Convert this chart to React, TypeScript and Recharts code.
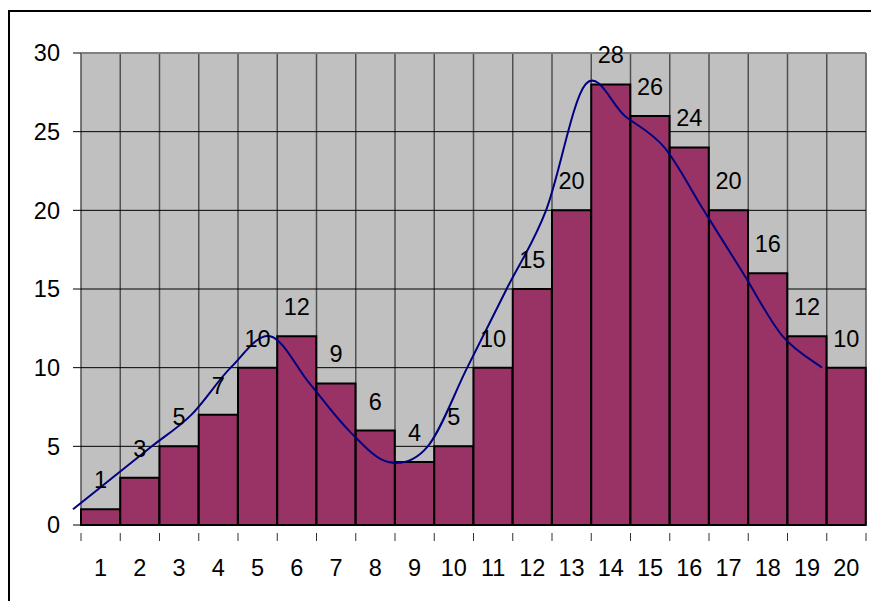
import React from 'react';
import { ComposedChart, Bar, Line, XAxis, YAxis, CartesianGrid, LabelList, ReferenceLine } from 'recharts';

const classes = ['1', '2', '3', '4', '5', '6', '7', '8', '9', '10', '11', '12', '13', '14', '15', '16', '17', '18', '19', '20'];
const counts = [1, 3, 5, 7, 10, 12, 9, 6, 4, 5, 10, 15, 20, 28, 26, 24, 20, 16, 12, 10];
// the smoothed curve sits on the class boundaries
const curvePos = [0, 1, 2, 3, 4, 5, 6, 7, 8, 9, 10, 11, 12, 13, 14, 15, 16, 17, 18, 19];
const yTicks = [0, 5, 10, 15, 20, 25, 30];

const FONT = '"Liberation Sans", Arial, sans-serif';

const barData = classes.map((c, i) => ({ name: c, count: counts[i] }));
const curveData = curvePos.map((p, i) => ({ pos: p, count: counts[i] }));

// Catmull-Rom style smoothing, close to what spreadsheet "smoothed line" does
function smoothCurve(context: any) {
  let pts: [number, number][] = [];
  return {
    areaStart() {},
    areaEnd() {},
    lineStart() {
      pts = [];
    },
    point(x: number, y: number) {
      pts.push([+x, +y]);
    },
    lineEnd() {
      if (!pts.length) return;
      context.moveTo(pts[0][0], pts[0][1]);
      for (let i = 0; i < pts.length - 1; i++) {
        const p0 = pts[i - 1] || pts[i];
        const p1 = pts[i];
        const p2 = pts[i + 1];
        const p3 = pts[i + 2] || p2;
        context.bezierCurveTo(
          p1[0] + (p2[0] - p0[0]) / 6,
          p1[1] + (p2[1] - p0[1]) / 6,
          p2[0] - (p3[0] - p1[0]) / 6,
          p2[1] - (p3[1] - p1[1]) / 6,
          p2[0],
          p2[1]
        );
      }
    },
  };
}

function ClassTick(props: any) {
  const { x, y, payload, index, width } = props;
  const band = width / classes.length;
  const left = x - band / 2;
  return (
    <g>
      <line x1={left} y1={y} x2={left} y2={y + 8} stroke="#333" />
      {index === classes.length - 1 && (
        <line x1={x + band / 2} y1={y} x2={x + band / 2} y2={y + 8} stroke="#333" />
      )}
      <text x={x} y={y + 26} dy="0.71em" textAnchor="middle" fill="#000" fontSize={23.5} fontFamily={FONT}>
        {payload.value}
      </text>
    </g>
  );
}

export default function App() {
  return (
    <div style={{ position: 'fixed', left: 0, top: 0, width: 871, height: 601, overflow: 'hidden', background: '#fff' }}>
      <div
        style={{
          position: 'absolute',
          left: 8,
          top: 10,
          width: 920,
          height: 640,
          border: '2px solid #000',
          background: '#fff',
        }}
      />
      <div style={{ position: 'absolute', left: 8, top: 8 }}>
        <ComposedChart
          width={863}
          height={593}
          data={barData}
          barCategoryGap={0}
          margin={{ top: 45, right: 5, left: 13, bottom: 36 }}
        >
          <CartesianGrid
            fill="#C0C0C0"
            horizontal={false}
            stroke="#505050"
            strokeWidth={1.5}
            verticalCoordinatesGenerator={({ offset }: any) =>
              classes.map((_, i) => offset.left + (i * offset.width) / classes.length).concat(offset.left + offset.width)
            }
          />
          <CartesianGrid vertical={false} stroke="#000" />
          <ReferenceLine y={30} stroke="#808080" strokeWidth={2} />
          <XAxis
            dataKey="name"
            xAxisId="cls"
            height={40}
            interval={0}
            axisLine={{ stroke: '#000' }}
            tickLine={false}
            tick={<ClassTick />}
          />
          <XAxis
            xAxisId="pos"
            type="number"
            dataKey="pos"
            domain={[0, 19]}
            padding={{ left: -8, right: 44 }}
            hide
          />
          <YAxis
            width={60}
            domain={[0, 30]}
            ticks={yTicks}
            interval={0}
            axisLine={false}
            tickSize={8}
            tickMargin={13}
            tickLine={{ stroke: '#000' }}
            tick={{ fill: '#000', fontSize: 23.5, fontFamily: FONT }}
          />
          <Bar dataKey="count" xAxisId="cls" fill="#993366" stroke="#000" strokeWidth={2} isAnimationActive={false}>
            <LabelList dataKey="count" position="top" offset={21} fill="#000" fontSize={23.5} fontFamily={FONT} />
          </Bar>
          <Line
            data={curveData}
            xAxisId="pos"
            dataKey="count"
            type={smoothCurve as any}
            stroke="#000080"
            strokeWidth={2}
            dot={false}
            activeDot={false}
            isAnimationActive={false}
          />
        </ComposedChart>
      </div>
    </div>
  );
}
